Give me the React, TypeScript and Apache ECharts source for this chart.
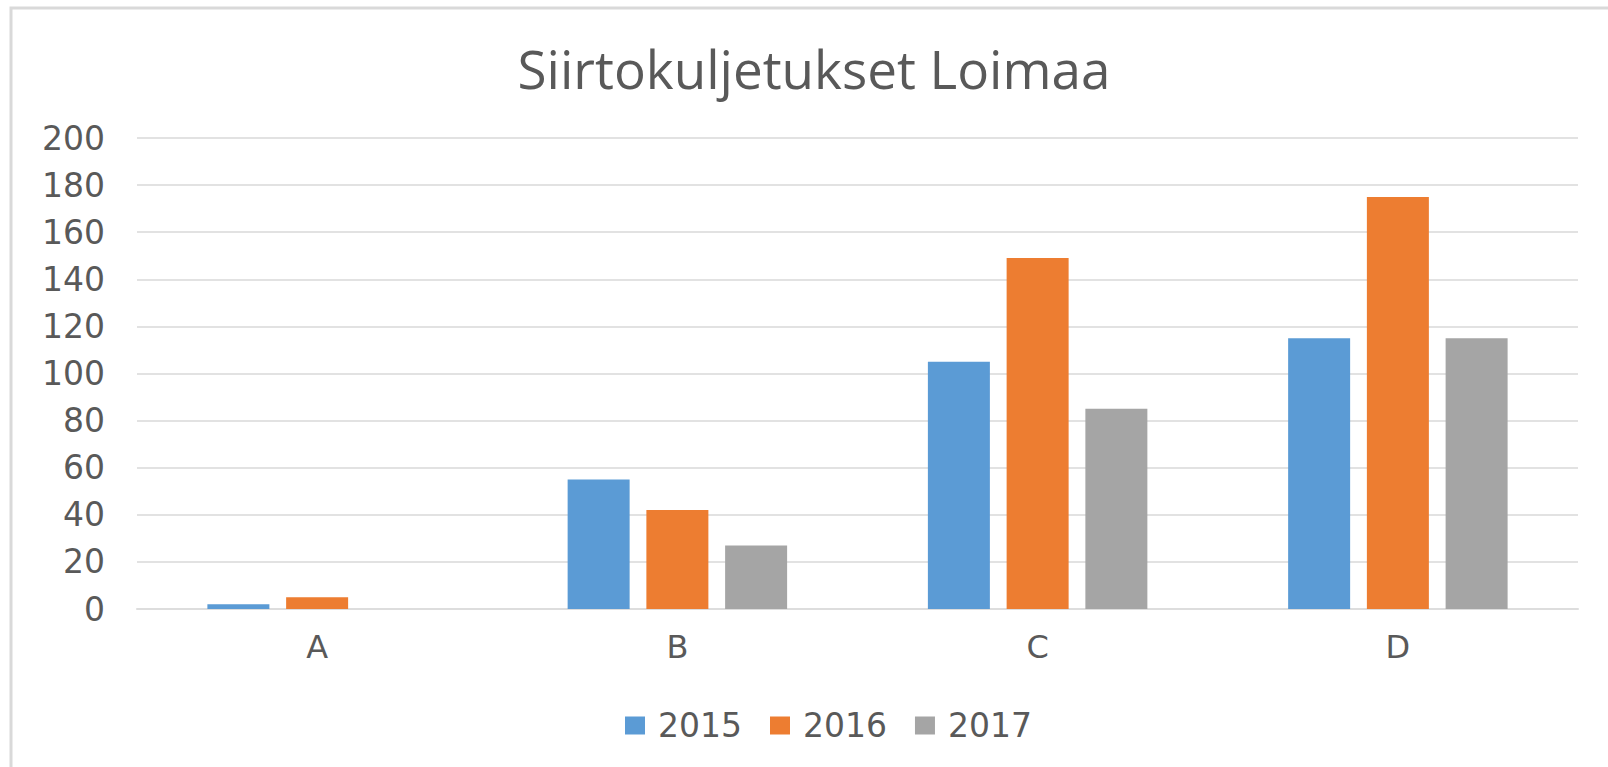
import React, { useEffect, useRef } from "react";
import * as echarts from "echarts";

const categories = ["A", "B", "C", "D"];
const seriesNames = ["2015", "2016", "2017"];
const values2015 = [2, 55, 105, 115];
const values2016 = [5, 42, 149, 175];
const values2017 = [0, 27, 85, 115];
const colors = ["#5B9BD5", "#ED7D31", "#A5A5A5"];
const titleText = "Siirtokuljetukset Loimaa";

export default function App() {
  const ref = useRef<HTMLDivElement>(null);
  useEffect(() => {
    if (!ref.current) return;
    const chart = echarts.init(ref.current, null, { renderer: "svg" });
    const data = [values2015, values2016, values2017];
    chart.setOption({
      animation: false,
      backgroundColor: "#ffffff",
      title: {
        text: titleText,
        left: 809,
        textAlign: "center",
        top: 37,
        textStyle: {
          fontFamily: "Open Sans",
          fontWeight: "normal",
          fontSize: 53,
          color: "#595959",
        },
      },
      graphic: [
        {
          type: "rect",
          shape: { x: 11, y: 8, width: 1700, height: 900 },
          style: { fill: "none", stroke: "#D9D9D9", lineWidth: 3 },
          silent: true,
        },
      ],
      legend: {
        data: seriesNames,
        left: 620,
        top: 704,
        itemWidth: 20,
        itemHeight: 18,
        itemGap: 28,
        icon: "rect",
        textStyle: {
          fontFamily: "DejaVu Sans",
          fontSize: 33,
          color: "#595959",
          padding: [0, 0, 0, 8],
        },
      },
      grid: { left: 137, right: 30, top: 138, bottom: 158, containLabel: false },
      xAxis: {
        type: "category",
        data: categories,
        axisLine: { lineStyle: { color: "#DDDDDD", width: 2 } },
        axisTick: { show: false },
        axisLabel: {
          fontFamily: "DejaVu Sans",
          fontSize: 32,
          color: "#595959",
          margin: 22,
        },
      },
      yAxis: {
        type: "value",
        min: 0,
        max: 200,
        interval: 20,
        axisLine: { show: false },
        axisTick: { show: false },
        splitLine: { lineStyle: { color: "#E2E2E2", width: 2 } },
        axisLabel: {
          fontFamily: "DejaVu Sans",
          fontSize: 33,
          color: "#595959",
          margin: 32,
        },
      },
      series: seriesNames.map((name, i) => ({
        name,
        type: "bar",
        data: data[i],
        barWidth: 62,
        barGap: "27%",
        itemStyle: { color: colors[i] },
      })),
    });
    return () => chart.dispose();
  }, []);
  return (
    <div
      ref={ref}
      style={{ position: "fixed", left: 0, top: 0, width: 1608, height: 767 }}
    />
  );
}
